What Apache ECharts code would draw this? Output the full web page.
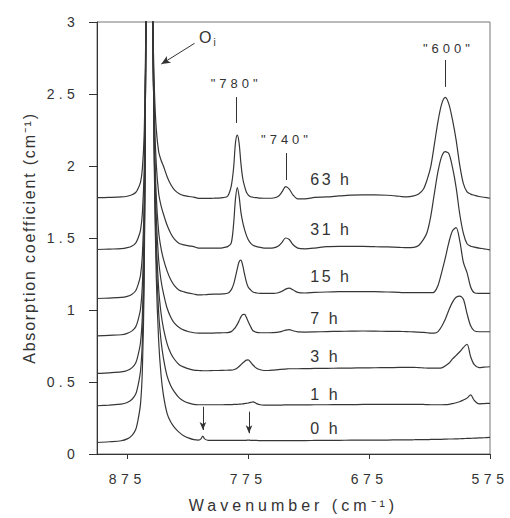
<!DOCTYPE html>
<html>
<head>
<meta charset="utf-8">
<script src="https://cdn.jsdelivr.net/npm/echarts@6/dist/echarts.min.js"></script>
<style>
html,body{margin:0;padding:0;background:#fff;}
#chart{width:510px;height:518px;}
</style>
</head>
<body>
<div id="chart"></div>
<script>
// Shared wavenumber grid (cm^-1), denser around the absorption bands
const wavenumbers = [
  900, 890, 880, 875, 871, 868, 866, 864, 862.5, 861, 860, 859, 858.2, 857.5, 856.8, 856, 855, 854, 852.5, 851, 849, 847, 845, 842, 839, 836, 832, 828, 824, 820,
  816, 814, 812.5, 811, 808, 804, 800, 796, 792, 789, 787, 785.5, 784, 782.5, 781, 779.5, 778, 776.5, 775, 773, 771, 768, 765, 762,
  758, 754, 750, 747, 744, 741, 738, 734, 728, 720, 710, 700, 690, 680, 670, 660, 650,
  644, 638, 634, 630, 627, 624, 621, 618, 615, 612, 609, 606, 603, 600, 597, 594, 591, 588, 584, 580, 575
];

// Absorption coefficient (cm^-1) of each spectrum, vertically offset
const h0 = [
  0.08, 0.085, 0.092, 0.105, 0.13, 0.17, 0.24, 0.35, 0.58, 1.18, 2.38, 4.28, 6.88, 8.08, 7.68, 6.38, 4.68, 3.28, 1.935, 1.235, 0.785, 0.545, 0.405, 0.281, 0.222, 0.185, 0.15, 0.125, 0.11, 0.1,
  0.097, 0.105, 0.125, 0.105, 0.095, 0.094, 0.094, 0.094, 0.094, 0.094, 0.094, 0.094, 0.094, 0.094, 0.094, 0.094, 0.094, 0.095, 0.097, 0.095, 0.094, 0.094, 0.093, 0.093,
  0.093, 0.093, 0.093, 0.093, 0.093, 0.093, 0.093, 0.093, 0.093, 0.094, 0.095, 0.095, 0.096, 0.096, 0.097, 0.097, 0.098,
  0.098, 0.099, 0.1, 0.1, 0.1, 0.101, 0.101, 0.102, 0.102, 0.103, 0.104, 0.104, 0.105, 0.106, 0.107, 0.108, 0.109, 0.11, 0.112, 0.113, 0.115
];
const h1 = [
  0.335, 0.34, 0.346, 0.358, 0.38, 0.416, 0.479, 0.578, 0.785, 1.324, 2.405, 4.115, 6.46, 7.54, 7.18, 6.01, 4.476, 3.223, 2.002, 1.378, 0.983, 0.783, 0.663, 0.541, 0.474, 0.431, 0.39, 0.367, 0.353, 0.344,
  0.342, 0.342, 0.342, 0.342, 0.342, 0.342, 0.342, 0.342, 0.343, 0.343, 0.344, 0.344, 0.345, 0.346, 0.347, 0.348, 0.35, 0.352, 0.354, 0.358, 0.362, 0.35, 0.342, 0.34,
  0.34, 0.34, 0.34, 0.34, 0.341, 0.341, 0.341, 0.341, 0.341, 0.342, 0.342, 0.343, 0.343, 0.344, 0.344, 0.345, 0.345,
  0.345, 0.345, 0.345, 0.344, 0.343, 0.342, 0.342, 0.342, 0.342, 0.343, 0.345, 0.35, 0.356, 0.363, 0.375, 0.388, 0.41, 0.372, 0.348, 0.35, 0.352
];
const h3 = [
  0.56, 0.564, 0.57, 0.58, 0.6, 0.632, 0.688, 0.776, 0.96, 1.44, 2.4, 3.92, 6.0, 6.96, 6.64, 5.6, 4.247, 3.121, 2.048, 1.495, 1.148, 0.976, 0.871, 0.765, 0.7, 0.658, 0.62, 0.603, 0.591, 0.583,
  0.58, 0.579, 0.578, 0.578, 0.578, 0.58, 0.58, 0.581, 0.582, 0.583, 0.585, 0.59, 0.598, 0.608, 0.62, 0.632, 0.642, 0.652, 0.653, 0.638, 0.618, 0.595, 0.585, 0.58,
  0.58, 0.583, 0.586, 0.588, 0.59, 0.592, 0.592, 0.592, 0.593, 0.594, 0.595, 0.596, 0.597, 0.598, 0.599, 0.6, 0.601,
  0.602, 0.602, 0.6, 0.598, 0.597, 0.596, 0.596, 0.596, 0.598, 0.612, 0.63, 0.66, 0.685, 0.71, 0.74, 0.762, 0.675, 0.62, 0.6, 0.603, 0.606
];
const h7 = [
  0.82, 0.824, 0.828, 0.838, 0.855, 0.883, 0.932, 1.009, 1.17, 1.59, 2.43, 3.76, 5.58, 6.42, 6.14, 5.23, 4.043, 3.069, 2.128, 1.647, 1.347, 1.203, 1.114, 1.012, 0.95, 0.909, 0.879, 0.86, 0.849, 0.842,
  0.84, 0.84, 0.84, 0.84, 0.84, 0.84, 0.841, 0.842, 0.843, 0.85, 0.865, 0.88, 0.9, 0.925, 0.952, 0.968, 0.97, 0.95, 0.92, 0.885, 0.856, 0.845, 0.842, 0.842,
  0.842, 0.843, 0.846, 0.852, 0.86, 0.864, 0.856, 0.848, 0.847, 0.848, 0.85, 0.852, 0.853, 0.854, 0.853, 0.852, 0.851,
  0.85, 0.848, 0.846, 0.844, 0.842, 0.84, 0.84, 0.85, 0.885, 0.935, 1.0, 1.055, 1.088, 1.097, 1.075, 0.975, 0.89, 0.855, 0.849, 0.849, 0.849
];
const h15 = [
  1.08, 1.083, 1.087, 1.095, 1.11, 1.134, 1.176, 1.242, 1.38, 1.74, 2.46, 3.6, 5.16, 5.88, 5.64, 4.86, 3.85, 3.01, 2.204, 1.794, 1.542, 1.426, 1.352, 1.27, 1.21, 1.17, 1.138, 1.126, 1.117, 1.111,
  1.105, 1.105, 1.106, 1.106, 1.108, 1.11, 1.11, 1.112, 1.116, 1.14, 1.18, 1.23, 1.285, 1.335, 1.347, 1.31, 1.25, 1.195, 1.16, 1.14, 1.125, 1.118, 1.115, 1.115,
  1.115, 1.115, 1.12, 1.13, 1.145, 1.152, 1.14, 1.122, 1.118, 1.122, 1.125, 1.127, 1.128, 1.128, 1.127, 1.125, 1.122,
  1.12, 1.12, 1.12, 1.12, 1.12, 1.12, 1.125, 1.17, 1.26, 1.36, 1.47, 1.55, 1.572, 1.48, 1.33, 1.26, 1.16, 1.12, 1.116, 1.116, 1.116
];
const h31 = [
  1.42, 1.423, 1.426, 1.433, 1.445, 1.465, 1.5, 1.555, 1.67, 1.97, 2.57, 3.52, 4.82, 5.42, 5.22, 4.57, 3.725, 3.025, 2.354, 2.016, 1.811, 1.723, 1.665, 1.588, 1.531, 1.492, 1.462, 1.452, 1.445, 1.44,
  1.43, 1.43, 1.43, 1.43, 1.43, 1.43, 1.43, 1.432, 1.44, 1.465, 1.6, 1.77, 1.85, 1.79, 1.68, 1.61, 1.56, 1.52, 1.49, 1.465, 1.45, 1.44, 1.435, 1.43,
  1.43, 1.432, 1.445, 1.47, 1.5, 1.49, 1.455, 1.43, 1.425, 1.43, 1.44, 1.442, 1.442, 1.442, 1.44, 1.438, 1.435,
  1.433, 1.435, 1.448, 1.49, 1.54, 1.65, 1.81, 1.962, 2.065, 2.1, 2.085, 1.99, 1.85, 1.665, 1.532, 1.46, 1.443, 1.437, 1.43, 1.425, 1.418
];
const h63 = [
  1.78, 1.782, 1.785, 1.79, 1.8, 1.816, 1.844, 1.888, 1.98, 2.22, 2.7, 3.46, 4.5, 4.98, 4.82, 4.3, 3.62, 3.06, 2.525, 2.258, 2.1, 2.04, 1.998, 1.926, 1.871, 1.834, 1.807, 1.794, 1.788, 1.784,
  1.775, 1.775, 1.775, 1.775, 1.775, 1.776, 1.777, 1.78, 1.79, 1.86, 1.99, 2.16, 2.214, 2.16, 2.02, 1.915, 1.86, 1.82, 1.8, 1.787, 1.783, 1.78, 1.777, 1.776,
  1.776, 1.778, 1.79, 1.82, 1.857, 1.84, 1.8, 1.772, 1.772, 1.782, 1.785, 1.792, 1.798, 1.8, 1.8, 1.797, 1.79,
  1.785, 1.792, 1.805, 1.84, 1.905, 1.995, 2.15, 2.31, 2.43, 2.477, 2.43, 2.32, 2.18, 2.005, 1.877, 1.82, 1.805, 1.797, 1.788, 1.783, 1.776
];

const spectra = [h0, h1, h3, h7, h15, h31, h63];
const timeLabels = ['0 h', '1 h', '3 h', '7 h', '15 h', '31 h', '63 h'];
const timeLabelY = [0.178, 0.41, 0.676, 0.942, 1.231, 1.556, 1.903];
const timeLabelX = 724;

const xTicks = [875, 775, 675, 575];

// Band labels and their leader lines: [wavenumber, from, to]
const bandNames = ['"780"', '"740"', '"600"'];
const bandLabelAt = [[784.9, 2.576], [743.3, 2.181], [609.4, 2.819]];
const bandLeaders = [[784.6, 2.299, 2.479], [743.3, 1.903, 2.09], [612.3, 2.549, 2.736]];

// Interstitial oxygen arrow: tail, head; and label anchor
const oxygenArrow = [[819.3, 2.852], [846.8, 2.708]];
const oxygenLabelAt = [816, 2.892];

// Down arrows above the 0 h spectrum: [wavenumber, tail, head]
const weakBandArrows = [[812.4, 0.328, 0.167], [774.3, 0.294, 0.144]];

const FONT = 'Liberation Sans, Arial, Helvetica, sans-serif';
const INK = '#333';

const chart = echarts.init(document.getElementById('chart'), null, { renderer: 'svg' });

const lineSeries = spectra.map((vals, k) => ({
  type: 'line',
  name: timeLabels[k],
  data: wavenumbers.map((w, i) => [w, vals[i]]),
  showSymbol: false,
  smooth: 0.3,
  silent: true,
  clip: true,
  lineStyle: { color: '#363636', width: 1.2 },
  emphasis: { disabled: true },
  z: 2
}));

const markLines = bandLeaders.map(b => [{ coord: [b[0], b[1]] }, { coord: [b[0], b[2]] }]);
markLines.push([
  { coord: oxygenArrow[0], symbol: 'none' },
  { coord: oxygenArrow[1], symbol: 'arrow', symbolSize: [6, 9] }
]);
weakBandArrows.forEach(a => markLines.push([
  { coord: [a[0], a[1]], symbol: 'none' },
  { coord: [a[0], a[2]], symbol: 'arrow', symbolSize: [5, 8] }
]));

const markPoints = [];
timeLabels.forEach((t, i) => markPoints.push({
  coord: [timeLabelX, timeLabelY[i]],
  label: { show: true, formatter: t, position: 'right', distance: 0, fontSize: 16, color: INK, fontFamily: FONT }
}));
bandNames.forEach((t, i) => markPoints.push({
  coord: bandLabelAt[i],
  label: { show: true, formatter: t, position: 'inside', fontSize: 13, color: INK, fontFamily: FONT }
}));
markPoints.push({
  coord: oxygenLabelAt,
  label: {
    show: true, formatter: 'O{sub|i}', position: 'right', distance: 0, color: INK, fontFamily: FONT,
    rich: {
      sub: { fontSize: 10, verticalAlign: 'bottom', lineHeight: 20, padding: [0, 0, 0, 2], fontFamily: FONT, color: INK }
    },
    fontSize: 16, lineHeight: 20, verticalAlign: 'middle'
  }
});

lineSeries.push({
  type: 'scatter',
  data: [],
  silent: true,
  markLine: {
    silent: true,
    animation: false,
    symbol: ['none', 'none'],
    label: { show: false },
    lineStyle: { type: 'solid', color: INK, width: 1 },
    emphasis: { disabled: true },
    data: markLines
  },
  markPoint: {
    silent: true,
    animation: false,
    symbol: 'circle',
    symbolSize: 1,
    itemStyle: { color: 'rgba(0,0,0,0)' },
    emphasis: { disabled: true },
    data: markPoints
  }
});

chart.setOption({
  animation: false,
  backgroundColor: '#fff',
  textStyle: { fontFamily: FONT, color: INK },
  grid: { left: 97, right: 20, top: 22, bottom: 64, show: true, borderColor: '#777', borderWidth: 1, backgroundColor: 'transparent' },
  xAxis: {
    type: 'value',
    inverse: true,
    min: 575,
    max: 900,
    interval: 100,
    name: 'Wavenumber (cm⁻¹)',
    nameLocation: 'middle',
    nameGap: 43,
    nameTextStyle: { fontSize: 16, color: INK, fontFamily: FONT },
    axisLine: { onZero: false, lineStyle: { color: INK, width: 1 } },
    axisTick: { show: true, length: 5, inside: false, customValues: xTicks, lineStyle: { color: INK } },
    axisLabel: { customValues: xTicks, margin: 18, fontSize: 14, color: INK, fontFamily: FONT },
    splitLine: { show: false }
  },
  yAxis: {
    type: 'value',
    min: 0,
    max: 3,
    interval: 0.5,
    name: 'Absorption coefficient (cm⁻¹)',
    nameLocation: 'middle',
    nameRotate: 90,
    nameGap: 60,
    nameTextStyle: { fontSize: 16, color: INK, fontFamily: FONT },
    axisLine: { show: true, lineStyle: { color: INK, width: 1 } },
    axisTick: { show: true, length: 8, inside: false, lineStyle: { color: INK } },
    axisLabel: { margin: 18, fontSize: 14, color: INK, fontFamily: FONT },
    splitLine: { show: false }
  },
  series: lineSeries
});

// Wide letter tracking of the printed figure, applied to the SVG text nodes
const tracking = [
  [/^\d{3}$/, 4.5],
  [/^\d(\.\d)?$/, 4.3],
  [/^Wavenumber/, 4],
  [/^Absorption/, 1.8],
  [/ h$/, 2.5],
  [/^"/, 4]
];
function applyTracking() {
  chart.getDom().querySelectorAll('text').forEach(t => {
    const s = (t.textContent || '').trim();
    for (const [re, px] of tracking) {
      if (re.test(s)) { t.style.letterSpacing = px + 'px'; break; }
    }
  });
}
chart.on('finished', applyTracking);
chart.getZr().flush && chart.getZr().flush();
applyTracking();
</script>
</body>
</html>
